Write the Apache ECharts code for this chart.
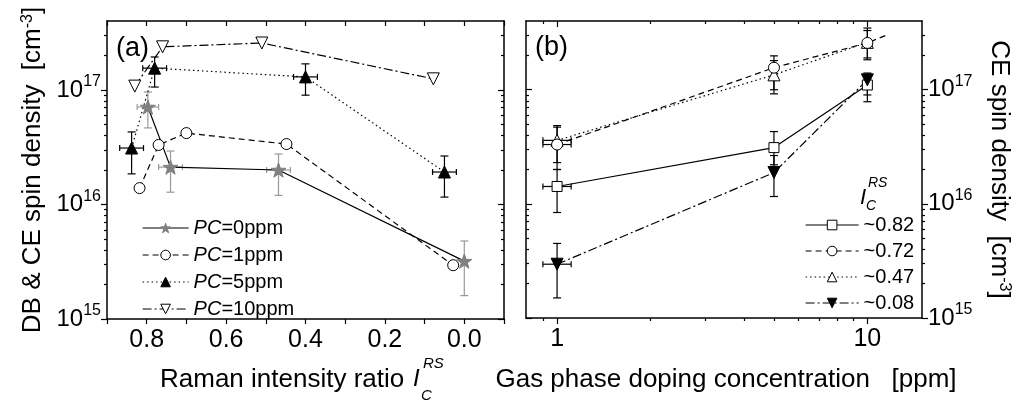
<!DOCTYPE html>
<html>
<head>
<meta charset="utf-8">
<script src="https://cdn.jsdelivr.net/npm/echarts@6/dist/echarts.min.js"></script>
<style>
html, body { margin: 0; padding: 0; background: #fff; }
#main { width: 1022px; height: 411px; }
</style>
</head>
<body>
<div id="main"></div>
<script>
// (a) spin density vs Raman intensity ratio, one series per PC doping level
var pc0X = [0.797, 0.74, 0.468, 0.0];
var pc0Y = [7.1e16, 2.12e16, 2.0e16, 3.2e15];
var pc0Lo = [4.66e16, 1.28e16, 1.2e16, 1.6e15];
var pc0Hi = [9.6e16, 2.93e16, 2.76e16, 4.8e15];
var pc0XErr = [0.027, 0.03, 0.03, 0.03];

var pc1X = [0.818, 0.77, 0.70, 0.448, 0.028];
var pc1Y = [1.39e16, 3.31e16, 4.2e16, 3.37e16, 2.95e15];

var pc5X = [0.838, 0.78, 0.40, 0.05];
var pc5Y = [3.11e16, 1.55e17, 1.3e17, 1.92e16];
var pc5Lo = [1.85e16, 1.06e17, 9.0e16, 1.16e16];
var pc5Hi = [4.3e16, 1.94e17, 1.69e17, 2.65e16];
var pc5XErr = [0.03, 0.03, 0.03, 0.03];

var pc10X = [0.83, 0.76, 0.51, 0.078];
var pc10Y = [1.08e17, 2.38e17, 2.57e17, 1.25e17];

// (b) CE spin density vs gas phase doping, one series per I_C^RS
var dopingX = [1, 5, 10];
var dopingXLo = [0.9, 0, 0];   // 0 = no x error bar
var dopingXHi = [1.11, 0, 0];

var r082Y = [1.42e16, 3.11e16, 1.1e17];
var r082Lo = [8.4e15, 2.2e16, 9.0e16];
var r082Hi = [2.0e16, 4.3e16, 1.3e17];

var r072Y = [3.31e16, 1.56e17, 2.57e17];
var r072Lo = [2.0e16, 9.2e16, 1.83e17];
var r072Hi = [4.85e16, 1.98e17, 3.47e17];
var r072Tail = [11.5, 3.0e17];   // dashed line runs a little past the last point

var r047Y = [3.6e16, 1.35e17, 2.6e17];
var r047Lo = [2.3e16, 1.0e17, 1.9e17];
var r047Hi = [4.7e16, 1.8e17, 3.3e17];

var r008Y = [2.96e15, 1.88e16, 1.22e17];
var r008Lo = [1.5e15, 1.16e16, 7.85e16];
var r008Hi = [4.5e15, 2.65e16, 1.4e17];

// tick values
var yMajor = [1e15, 1e16, 1e17];
var yMinor = [];
[1e15, 1e16, 1e17].forEach(function (d) {
	for (var m = 2; m <= 9; m++) { if (m * d <= 4e17) yMinor.push(m * d); }
});
var bMajor = [1, 10];
var bMinor = [0.9, 2, 3, 4, 5, 6, 7, 8, 9];

var FONT = '"Liberation Sans", Arial, sans-serif';
var STAR = 'path://M0,-10L2.35,-3.24L9.51,-3.09L3.8,1.24L5.88,8.09L0,4L-5.88,8.09L-3.8,1.24L-9.51,-3.09L-2.35,-3.24Z';
var solid = 'solid', dashed = [6, 4], dotted = [1.5, 3], dashDot = [9, 3, 2, 3];

function pairs(xs, ys) {
	return xs.map(function (x, i) { return [x, ys[i]]; });
}

// error bar rows: [x, y, yLo, yHi, xLo, xHi]
function errRows(xs, ys, lo, hi, xlo, xhi) {
	return xs.map(function (x, i) { return [x, ys[i], lo[i], hi[i], xlo[i], xhi[i]]; });
}

function errRender(color) {
	return function (params, api) {
		var x = api.value(0), y = api.value(1);
		var st = { stroke: color, lineWidth: 1.2 };
		var kids = [];
		var a = api.coord([x, api.value(2)]), b = api.coord([x, api.value(3)]);
		kids.push({ type: 'line', shape: { x1: a[0], y1: a[1], x2: b[0], y2: b[1] }, style: st });
		kids.push({ type: 'line', shape: { x1: a[0] - 4, y1: a[1], x2: a[0] + 4, y2: a[1] }, style: st });
		kids.push({ type: 'line', shape: { x1: b[0] - 4, y1: b[1], x2: b[0] + 4, y2: b[1] }, style: st });
		if (api.value(4) > 0 && api.value(5) > 0) {
			var c = api.coord([api.value(4), y]), d = api.coord([api.value(5), y]);
			kids.push({ type: 'line', shape: { x1: c[0], y1: c[1], x2: d[0], y2: d[1] }, style: st });
			kids.push({ type: 'line', shape: { x1: c[0], y1: c[1] - 3, x2: c[0], y2: c[1] + 3 }, style: st });
			kids.push({ type: 'line', shape: { x1: d[0], y1: d[1] - 3, x2: d[0], y2: d[1] + 3 }, style: st });
		}
		return { type: 'group', children: kids };
	};
}

function lineSeries(name, xi, yi, data, symbol, size, dash, fill, extra) {
	var s = {
		name: name, type: 'line', xAxisIndex: xi, yAxisIndex: yi, data: data,
		symbol: symbol, symbolSize: size, symbolKeepAspect: true,
		lineStyle: { color: '#000', width: 1.2, type: dash },
		itemStyle: { color: fill, borderColor: fill === '#808080' ? '#808080' : '#000', borderWidth: 1 },
		z: 3, animation: false
	};
	for (var k in extra) s[k] = extra[k];
	return s;
}

function errSeries(name, xi, yi, data, color) {
	return {
		name: name, type: 'custom', xAxisIndex: xi, yAxisIndex: yi, data: data,
		encode: { x: 0, y: 1 }, renderItem: errRender(color), z: 2, silent: true, animation: false
	};
}

var axisLine = { show: true, onZero: false, lineStyle: { color: '#000', width: 1.5 } };
var noLine = { show: false, onZero: false };
var supRich = {
	s: { fontSize: 16, verticalAlign: 'top', lineHeight: 16, fontFamily: FONT, color: '#000' }
};
function powLabel(v) {
	return '10{s|' + Math.round(Math.log10(v)) + '}';
}

function logY(grid, pos, major, labels, inside) {
	return {
		type: 'log', logBase: 10, gridIndex: grid, position: pos, min: 1e15, max: 4e17,
		axisLine: major ? axisLine : noLine,
		splitLine: { show: false },
		axisTick: { show: true, inside: inside, length: major ? 6 : 3,
			customValues: major ? yMajor : yMinor, lineStyle: { color: '#000', width: 1.2 } },
		axisLabel: labels ? {
			show: true, customValues: yMajor, formatter: powLabel, margin: 6,
			fontSize: 24, lineHeight: 32, color: '#000', fontFamily: FONT, rich: supRich
		} : { show: false }
	};
}

function logX(grid, pos, major, labels, inside) {
	return {
		type: 'log', logBase: 10, gridIndex: grid, position: pos, min: 0.794, max: 15,
		axisLine: major ? axisLine : noLine,
		splitLine: { show: false },
		axisTick: { show: true, inside: inside, length: major ? 6 : 3,
			customValues: major ? bMajor : bMinor, lineStyle: { color: '#000', width: 1.2 } },
		axisLabel: labels ? {
			show: true, customValues: bMajor, formatter: function (v) { return String(Math.round(v)); },
			margin: 9, fontSize: 25, color: '#000', fontFamily: FONT
		} : { show: false }
	};
}

function ramanX(pos, labels) {
	return {
		type: 'value', gridIndex: 0, position: pos, min: -0.1, max: 0.9, interval: 0.1, inverse: true,
		axisLine: axisLine, splitLine: { show: false },
		axisTick: { show: true, inside: !labels, length: 5, lineStyle: { color: '#000', width: 1.2 } },
		axisLabel: labels ? {
			show: true, margin: 9, fontSize: 25, color: '#000', fontFamily: FONT,
			formatter: function (v) { return Math.round(v * 10) % 2 === 0 ? Math.abs(v).toFixed(1) : ''; }
		} : { show: false }
	};
}

var titleName = {
	nameLocation: 'middle',
	nameTextStyle: { fontSize: 26, color: '#000', fontFamily: FONT, rich: supRich }
};

var yA = logY(0, 'left', true, true, false);
Object.assign(yA, titleName, { name: 'DB & CE spin density  [cm{s|-3}]', nameRotate: 90, nameGap: 61 });
var yB = logY(1, 'right', true, true, false);
Object.assign(yB, titleName, { name: 'CE spin density  [cm{s|-3}]', nameRotate: -90, nameGap: 64 });

var r072Data = pairs(dopingX, r072Y);
r072Data.push({ value: r072Tail, symbol: 'none' });

var txt = function (x, y, text, font, align) {
	return { type: 'text', x: x, y: y, z: 10,
		style: { text: text, font: font, fill: '#000', textAlign: align || 'left', align: align || 'left',
			textVerticalAlign: 'middle', verticalAlign: 'middle' } };
};

var legendCommon = {
	orient: 'vertical', itemHeight: 12, selectedMode: false, symbolRotate: 'inherit',
	itemStyle: { borderWidth: 1 }, lineStyle: { width: 1.2 }
};

var myChart = echarts.init(document.getElementById('main'));
var option = {
	animation: false,
	backgroundColor: '#fff',
	textStyle: { fontFamily: FONT },
	grid: [
		{ left: 107, top: 21, width: 397, height: 298 },
		{ left: 526, top: 21, width: 396, height: 297 }
	],
	xAxis: [
		ramanX('bottom', true),
		ramanX('top', false),
		logX(1, 'bottom', true, true, false),
		logX(1, 'bottom', false, false, false),
		logX(1, 'top', true, false, true),
		logX(1, 'top', false, false, true)
	],
	yAxis: [
		yA,
		logY(0, 'left', false, false, false),
		logY(0, 'right', true, false, true),
		logY(0, 'right', false, false, true),
		yB,
		logY(1, 'right', false, false, false),
		logY(1, 'left', true, false, true),
		logY(1, 'left', false, false, true)
	],
	legend: [
		Object.assign({}, legendCommon, {
			left: 137, top: 213, itemWidth: 46, itemGap: 7,
			data: ['PC=0ppm', 'PC=1ppm', 'PC=5ppm', 'PC=10ppm'],
			formatter: function (n) { return '{i|PC}' + n.slice(2); },
			textStyle: { fontSize: 20, lineHeight: 20, color: '#000', fontFamily: FONT,
				rich: { i: { fontStyle: 'italic', fontSize: 20, lineHeight: 20, fontFamily: FONT, color: '#000' } } }
		}),
		Object.assign({}, legendCommon, {
			left: 800, top: 210, itemWidth: 53, itemGap: 6,
			data: ['~0.82', '~0.72', '~0.47', '~0.08'],
			textStyle: { fontSize: 20, lineHeight: 20, color: '#000', fontFamily: FONT }
		})
	],
	graphic: [
		txt(116, 49, '(a)', '27px ' + FONT),
		txt(535, 48, '(b)', '27px ' + FONT),
		txt(160, 380, 'Raman intensity ratio', '26px ' + FONT),
		txt(413, 379, 'I', 'italic 24px ' + FONT),
		txt(423, 364, 'RS', 'italic 15px ' + FONT),
		txt(421, 396, 'C', 'italic 15px ' + FONT),
		txt(726, 380, 'Gas phase doping concentration   [ppm]', '26px ' + FONT, 'center'),
		txt(860, 198, 'I', 'italic 22px ' + FONT),
		txt(868, 183, 'RS', 'italic 14px ' + FONT),
		txt(866, 206, 'C', 'italic 14px ' + FONT)
	],
	series: [
		errSeries('a0err', 0, 0, errRows(pc0X, pc0Y, pc0Lo, pc0Hi,
			pc0X.map(function (x, i) { return x + pc0XErr[i]; }),
			pc0X.map(function (x, i) { return x - pc0XErr[i]; })), '#999'),
		errSeries('a5err', 0, 0, errRows(pc5X, pc5Y, pc5Lo, pc5Hi,
			pc5X.map(function (x, i) { return x + pc5XErr[i]; }),
			pc5X.map(function (x, i) { return x - pc5XErr[i]; })), '#000'),
		lineSeries('PC=0ppm', 0, 0, pairs(pc0X, pc0Y), STAR, 15, solid, '#808080'),
		lineSeries('PC=1ppm', 0, 0, pairs(pc1X, pc1Y), 'circle', 11, dashed, '#fff'),
		lineSeries('PC=5ppm', 0, 0, pairs(pc5X, pc5Y), 'triangle', 12, dotted, '#000'),
		lineSeries('PC=10ppm', 0, 0, pairs(pc10X, pc10Y), 'triangle', 12, dashDot, '#fff', { symbolRotate: 180 }),

		errSeries('b082err', 2, 4, errRows(dopingX, r082Y, r082Lo, r082Hi, dopingXLo, dopingXHi), '#000'),
		errSeries('b072err', 2, 4, errRows(dopingX, r072Y, r072Lo, r072Hi, dopingXLo, dopingXHi), '#000'),
		errSeries('b047err', 2, 4, errRows(dopingX, r047Y, r047Lo, r047Hi, dopingXLo, dopingXHi), '#000'),
		errSeries('b008err', 2, 4, errRows(dopingX, r008Y, r008Lo, r008Hi, dopingXLo, dopingXHi), '#000'),
		lineSeries('~0.82', 2, 4, pairs(dopingX, r082Y), 'rect', 10, solid, '#fff'),
		lineSeries('~0.47', 2, 4, pairs(dopingX, r047Y), 'triangle', 12, dotted, '#fff'),
		lineSeries('~0.72', 2, 4, r072Data, 'circle', 11, dashed, '#fff'),
		lineSeries('~0.08', 2, 4, pairs(dopingX, r008Y), 'triangle', 12, dashDot, '#000', { symbolRotate: 180 })
	]
};
myChart.setOption(option);
</script>
</body>
</html>
